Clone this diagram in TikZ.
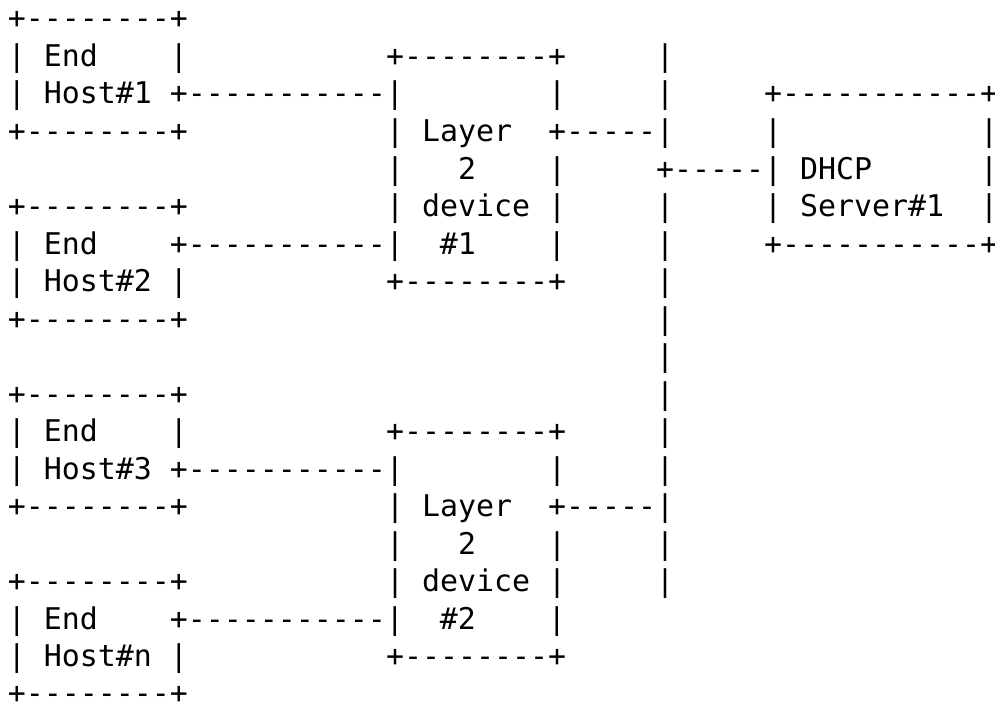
\documentclass[tikz,border=0pt]{standalone}
\usepackage{fontspec}
\setmonofont{DejaVu Sans Mono}
\newcommand\gap[1]{\hspace*{\dimexpr 0.60205em*#1\relax}}
\tikzset{
  asciirow/.style={anchor=base west, inner sep=0pt, outer sep=0pt,
    font=\ttfamily\fontsize{29.9pt}{37.5pt}\selectfont}
}
\begin{document}
\begin{tikzpicture}[x=1pt,y=1pt]
\useasboundingbox (0,0) rectangle (995,-706);
\node[asciirow] (r0)  at (8,-29.0)  {+--------+};
\node[asciirow] (r1)  at (8,-66.5)  {|\gap{1}End\gap{4}|\gap{11}+--------+\gap{5}|};
\node[asciirow] (r2)  at (8,-104.0) {|\gap{1}Host\#1\gap{1}+-----------|\gap{8}|\gap{5}|\gap{5}+-----------+};
\node[asciirow] (r3)  at (8,-141.5) {+--------+\gap{11}|\gap{1}Layer\gap{2}+-----|\gap{5}|\gap{11}|};
\node[asciirow] (r4)  at (8,-179.0) {\gap{21}|\gap{3}2\gap{4}|\gap{5}+-----|\gap{1}DHCP\gap{6}|};
\node[asciirow] (r5)  at (8,-216.5) {+--------+\gap{11}|\gap{1}device\gap{1}|\gap{5}|\gap{5}|\gap{1}Server\#1\gap{2}|};
\node[asciirow] (r6)  at (8,-254.0) {|\gap{1}End\gap{4}+-----------|\gap{2}\#1\gap{4}|\gap{5}|\gap{5}+-----------+};
\node[asciirow] (r7)  at (8,-291.5) {|\gap{1}Host\#2\gap{1}|\gap{11}+--------+\gap{5}|};
\node[asciirow] (r8)  at (8,-329.0) {+--------+\gap{26}|};
\node[asciirow] (r9)  at (8,-366.5) {\gap{36}|};
\node[asciirow] (r10) at (8,-404.0) {+--------+\gap{26}|};
\node[asciirow] (r11) at (8,-441.5) {|\gap{1}End\gap{4}|\gap{11}+--------+\gap{5}|};
\node[asciirow] (r12) at (8,-479.0) {|\gap{1}Host\#3\gap{1}+-----------|\gap{8}|\gap{5}|};
\node[asciirow] (r13) at (8,-516.5) {+--------+\gap{11}|\gap{1}Layer\gap{2}+-----|};
\node[asciirow] (r14) at (8,-554.0) {\gap{21}|\gap{3}2\gap{4}|\gap{5}|};
\node[asciirow] (r15) at (8,-591.5) {+--------+\gap{11}|\gap{1}device\gap{1}|\gap{5}|};
\node[asciirow] (r16) at (8,-629.0) {|\gap{1}End\gap{4}+-----------|\gap{2}\#2\gap{4}|};
\node[asciirow] (r17) at (8,-666.5) {|\gap{1}Host\#n\gap{1}|\gap{11}+--------+};
\node[asciirow] (r18) at (8,-703.0) {+--------+};
\end{tikzpicture}
\end{document}
